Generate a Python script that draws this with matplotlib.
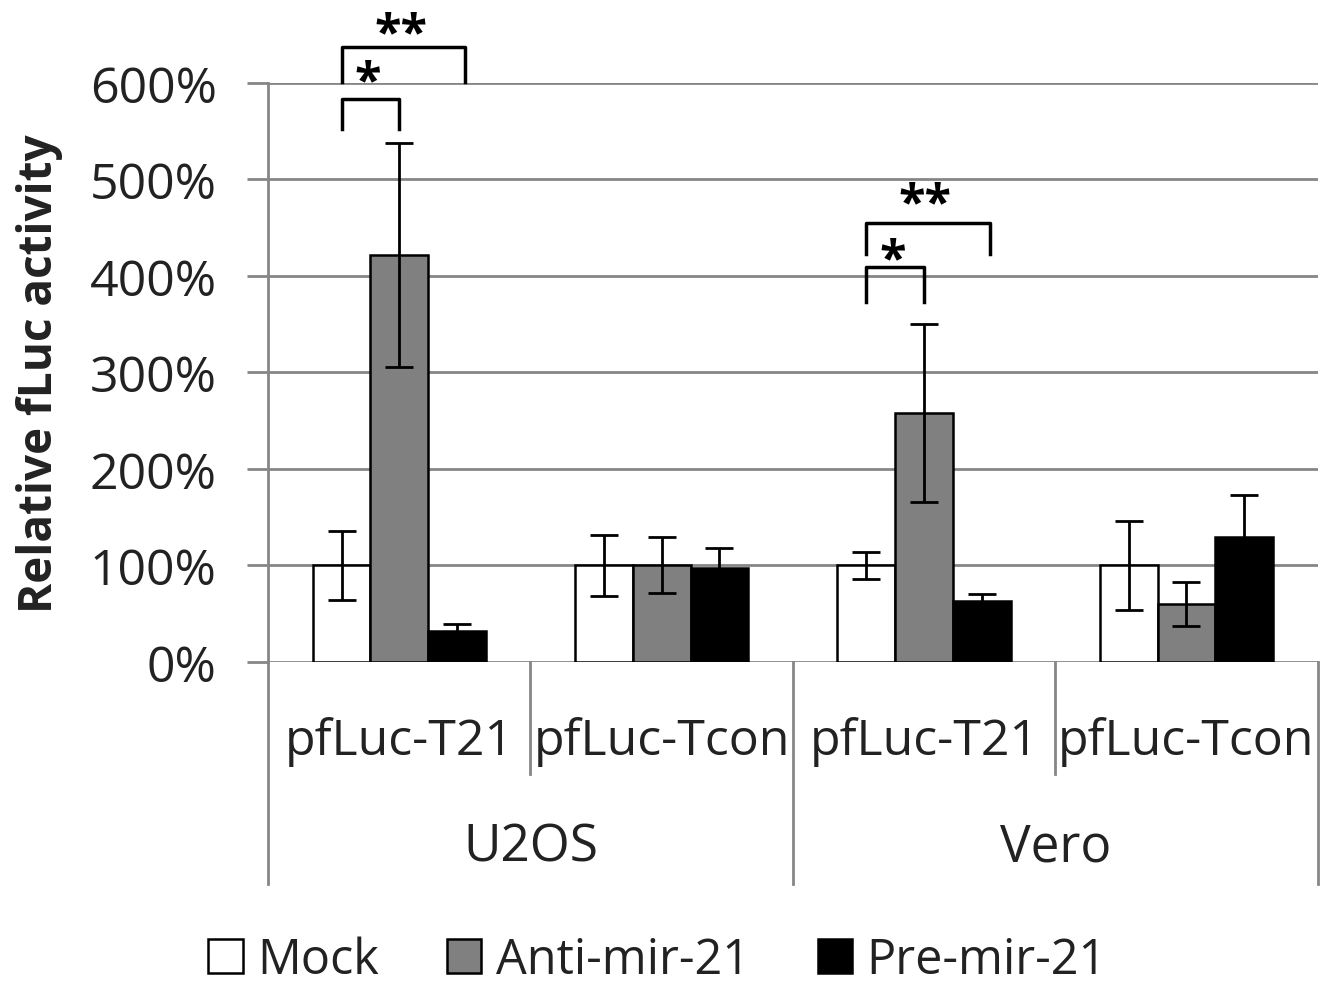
import numpy as np
import matplotlib
matplotlib.use("Agg")
import matplotlib.pyplot as plt
from matplotlib.patches import Patch
import matplotlib.transforms as mtransforms

plt.rcParams['font.family'] = ['Open Sans', 'DejaVu Sans']

# data (percent)
constructs = ['pfLuc-T21', 'pfLuc-Tcon', 'pfLuc-T21', 'pfLuc-Tcon']
cell_lines = ['U2OS', 'Vero']
series = ['Mock', 'Anti-mir-21', 'Pre-mir-21']
mock = [100, 100, 100, 100]
mock_err = [36, 32, 14, 46]
anti = [422, 100, 258, 60]
anti_err = [116, 29, 92, 23]
pre = [32, 97, 63, 129]
pre_err = [7, 21, 7, 44]

colors = ['white', '#808080', 'black']
values = [mock, anti, pre]
errors = [mock_err, anti_err, pre_err]

fig = plt.figure(figsize=(13.31, 9.87), dpi=100)
ax = fig.add_axes([0.2014, 0.3283, 0.7886, 0.5866])

x = np.arange(len(constructs))
width = 0.22
for i in range(3):
    ax.bar(x + (i - 1) * width, values[i], width, color=colors[i],
           edgecolor='black', linewidth=1.8, zorder=3)
    ax.errorbar(x + (i - 1) * width, values[i], yerr=errors[i], fmt='none',
                ecolor='black', elinewidth=2, capsize=10, capthick=2, zorder=4)

ax.set_xlim(-0.5, 3.5)
ax.set_ylim(0, 600)
ax.set_yticks(np.arange(0, 601, 100))
ax.set_yticklabels([f'{v}%' for v in range(0, 601, 100)])
ax.yaxis.grid(True, color='#868686', linewidth=2)
ax.set_axisbelow(True)
for s in ['top', 'right', 'bottom']:
    ax.spines[s].set_visible(False)
ax.spines['left'].set_color('#868686')
ax.spines['left'].set_linewidth(2)
ax.tick_params(axis='y', length=15, width=2, color='#868686', labelsize=36,
               pad=22, labelcolor='#222222')
ax.set_xticks([])
ax.set_ylabel('Relative fLuc activity', fontsize=33, fontweight='bold',
              color='#222222', va='center')
ax.yaxis.set_label_coords(-0.218, 0.5)

# multi-level category axis
trans = mtransforms.blended_transform_factory(ax.transData, ax.transAxes)
for b in [-0.5, 1.5, 3.5]:
    ax.plot([b, b], [0, -0.383], color='#868686', lw=2, transform=trans, clip_on=False)
for b in [0.5, 2.5]:
    ax.plot([b, b], [0, -0.193], color='#868686', lw=2, transform=trans, clip_on=False)
for i, c in enumerate(constructs):
    ax.text(x[i], -0.136, c, transform=trans, ha='center', va='center',
            fontsize=36, color='#222222')
for j, g in enumerate(cell_lines):
    ax.text(0.5 + 2 * j, -0.32, g, transform=trans, ha='center', va='center',
            fontsize=37, color='#222222')

# significance brackets
def bracket(x0, x1, ybot, ytop, label, ty):
    ax.plot([x0, x0, x1, x1], [ybot, ytop, ytop, ybot], color='black', lw=2.5,
            clip_on=False, zorder=5)
    ax.text((x0 + x1) / 2 - 0.01, ty, label, ha='center', va='center', fontsize=35,
            fontweight='bold', clip_on=False)

bracket(x[0] - width, x[0], 552, 583, '*', 600)
bracket(x[0] - width, x[0] + width + 0.03, 601, 637, '**', 650)
bracket(x[2] - width, x[2], 373, 409, '*', 416)
bracket(x[2] - width, x[2] + width + 0.03, 423, 455, '**', 474)

handles = [Patch(facecolor=colors[i], edgecolor='black', linewidth=1.8, label=series[i])
           for i in range(3)]
fig.legend(handles=handles, loc='center', bbox_to_anchor=(0.494, 0.026), ncol=3,
           frameon=False, fontsize=35, handlelength=0.7, handleheight=0.7,
           handletextpad=0.3, columnspacing=1.4, labelcolor='#222222')

fig.savefig('out.png', dpi=100)
